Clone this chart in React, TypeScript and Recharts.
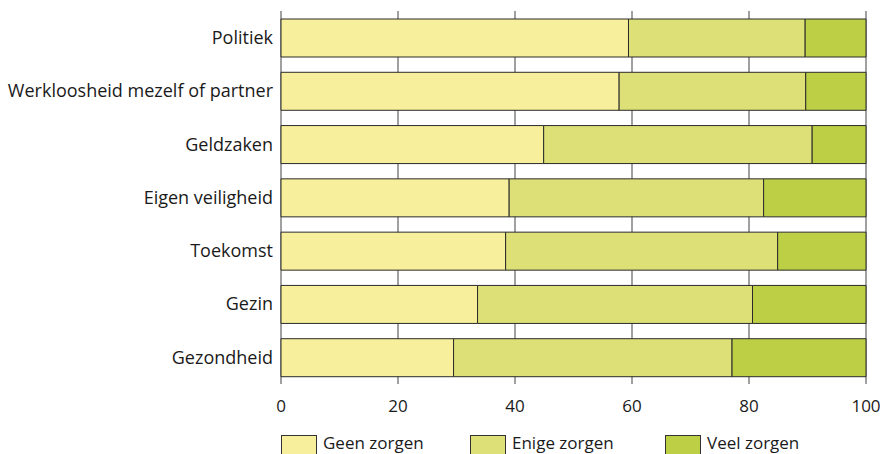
import React from 'react';
import { BarChart, Bar, XAxis, YAxis, CartesianGrid } from 'recharts';

const categories = [
  'Politiek',
  'Werkloosheid mezelf of partner',
  'Geldzaken',
  'Eigen veiligheid',
  'Toekomst',
  'Gezin',
  'Gezondheid',
];
const geenZorgen = [59.4, 57.8, 44.9, 39.0, 38.4, 33.6, 29.5];
const enigeZorgen = [30.2, 31.9, 45.9, 43.5, 46.5, 47.0, 47.6];
const veelZorgen = [10.4, 10.3, 9.2, 17.5, 15.1, 19.4, 22.9];
const xTicks = [0, 20, 40, 60, 80, 100];

const SERIES = [
  { key: 'geen', name: 'Geen zorgen', color: '#f7ef9b' },
  { key: 'enige', name: 'Enige zorgen', color: '#dde077' },
  { key: 'veel', name: 'Veel zorgen', color: '#bdd045' },
];

const data = categories.map((name, i) => ({
  name,
  geen: geenZorgen[i],
  enige: enigeZorgen[i],
  veel: veelZorgen[i],
}));

const FONT = '"Open Sans", sans-serif';

const LegendRow: React.FC = () => (
  <div
    style={{
      position: 'absolute',
      left: 281,
      top: 433,
      display: 'flex',
      fontFamily: FONT,
      fontSize: 17,
      color: '#1a1a1a',
      lineHeight: '20px',
    }}
  >
    {SERIES.map((s, i) => (
      <div key={s.key} style={{ display: 'flex', alignItems: 'flex-start', width: i < 2 ? (i === 0 ? 189 : 195) : 'auto' }}>
        <div style={{ width: 34, height: 19, marginTop: 2, background: s.color, border: '1px solid #333', marginRight: 6 }} />
        <span>{s.name}</span>
      </div>
    ))}
  </div>
);

export default function App() {
  return (
    <div style={{ position: 'absolute', left: 0, top: 0, width: 880, height: 454, overflow: 'hidden', background: '#fff' }}>
      <BarChart
        width={880}
        height={454}
        data={data}
        layout="vertical"
        margin={{ top: 11, right: 14, bottom: 0, left: 0 }}
      >
        <CartesianGrid horizontal={false} stroke="#808080" strokeWidth={1.5} />
        <XAxis
          type="number"
          domain={[0, 100]}
          ticks={xTicks}
          axisLine={false}
          tickLine={false}
          tickMargin={10}
          height={70}
          tick={{ fontSize: 17, fill: '#1a1a1a', fontFamily: FONT }}
        />
        <YAxis
          type="category"
          dataKey="name"
          width={281}
          axisLine={false}
          tickLine={false}
          tick={{ fontSize: 18, fill: '#1a1a1a', fontFamily: FONT }}
        />
        {SERIES.map((s) => (
          <Bar
            key={s.key}
            dataKey={s.key}
            name={s.name}
            stackId="a"
            fill={s.color}
            stroke="#2a2a2a"
            strokeWidth={1}
            barSize={38}
            isAnimationActive={false}
          />
        ))}
      </BarChart>
      <LegendRow />
    </div>
  );
}
